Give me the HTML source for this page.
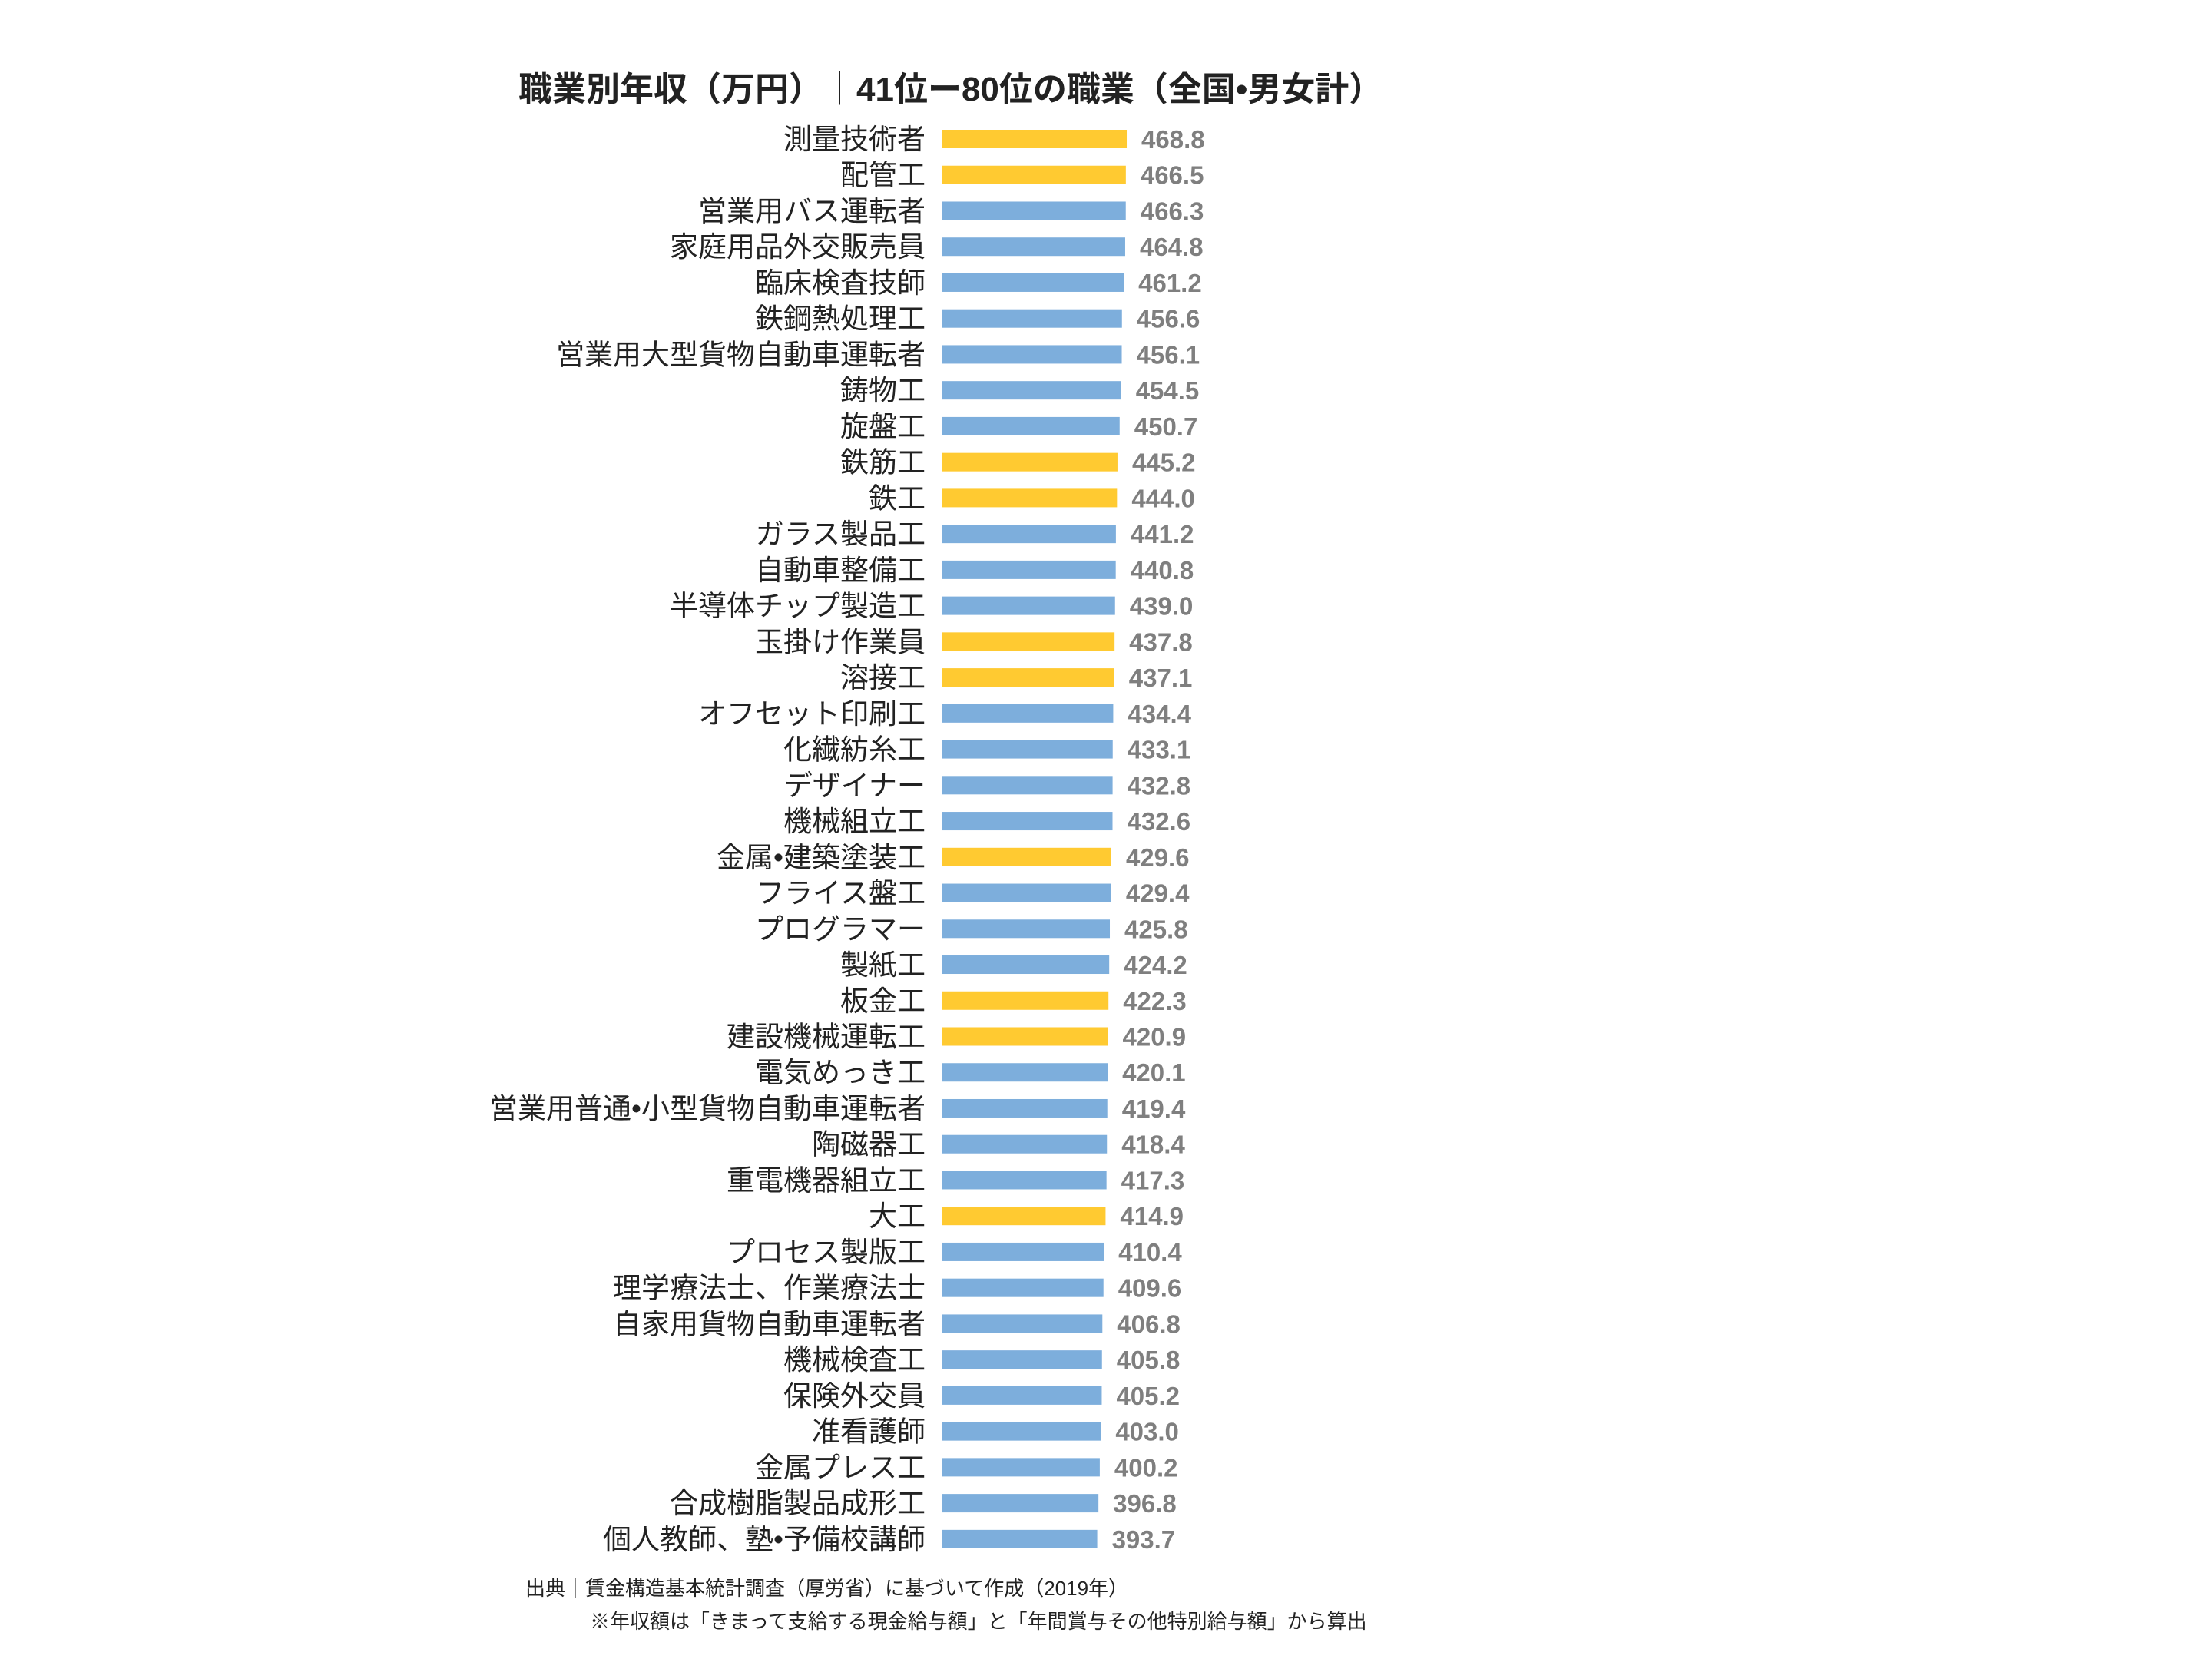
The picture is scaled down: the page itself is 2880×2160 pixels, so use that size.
<!DOCTYPE html>
<html><head><meta charset="utf-8">
<style>
html,body{margin:0;padding:0;background:#fff;}
svg{display:block;}
text{font-family:"Liberation Sans","Noto Sans CJK JP",sans-serif;}
</style></head>
<body>
<svg id="chart" width="2880" height="2160" viewBox="0 0 2880 2160" xmlns="http://www.w3.org/2000/svg">
<rect width="2880" height="2160" fill="#fff"/>
<text x="675" y="131" font-size="44" font-weight="bold" fill="#222" font-family="'Liberation Sans','Noto Sans CJK JP',sans-serif">職業別年収（万円）｜41位ー80位の職業（全国•男女計）</text>
<g id="bars"></g>
<text x="684" y="2077" font-size="26" fill="#222">出典｜賃金構造基本統計調査（厚労省）に基づいて作成（2019年）</text>
<text x="768" y="2120" font-size="26" fill="#222">※年収額は「きまって支給する現金給与額」と「年間賞与その他特別給与額」から算出</text>
</svg>
<script>
const categories = ["測量技術者","配管工","営業用バス運転者","家庭用品外交販売員","臨床検査技師","鉄鋼熱処理工","営業用大型貨物自動車運転者","鋳物工","旋盤工","鉄筋工","鉄工","ガラス製品工","自動車整備工","半導体チップ製造工","玉掛け作業員","溶接工","オフセット印刷工","化繊紡糸工","デザイナー","機械組立工","金属•建築塗装工","フライス盤工","プログラマー","製紙工","板金工","建設機械運転工","電気めっき工","営業用普通•小型貨物自動車運転者","陶磁器工","重電機器組立工","大工","プロセス製版工","理学療法士、作業療法士","自家用貨物自動車運転者","機械検査工","保険外交員","准看護師","金属プレス工","合成樹脂製品成形工","個人教師、塾•予備校講師"];
const values = [468.8,466.5,466.3,464.8,461.2,456.6,456.1,454.5,450.7,445.2,444.0,441.2,440.8,439.0,437.8,437.1,434.4,433.1,432.8,432.6,429.6,429.4,425.8,424.2,422.3,420.9,420.1,419.4,418.4,417.3,414.9,410.4,409.6,406.8,405.8,405.2,403.0,400.2,396.8,393.7];
const highlighted = [1,1,0,0,0,0,0,0,0,1,1,0,0,0,1,1,0,0,0,0,1,0,0,0,1,1,0,0,0,0,1,0,0,0,0,0,0,0,0,0];

const X0 = 1227, PX_PER = 0.512, Y0 = 181, PITCH = 46.74, BAR_H = 24;
const xScale = v => X0 + v * PX_PER;
const yScale = i => Y0 + i * PITCH;
const NS = "http://www.w3.org/2000/svg";
const g = document.getElementById("bars");
categories.forEach((c, i) => {
  const cy = yScale(i);
  const lab = document.createElementNS(NS, "text");
  
  
  lab.setAttribute("x", 1205); lab.setAttribute("y", cy + 13);
  lab.setAttribute("text-anchor", "end"); lab.setAttribute("font-size", "37");
  lab.setAttribute("fill", "#222");
  lab.textContent = c; g.appendChild(lab);
  const r = document.createElementNS(NS, "rect");
  
  
  r.setAttribute("x", xScale(0)); r.setAttribute("y", cy - BAR_H / 2);
  r.setAttribute("width", xScale(values[i]) - xScale(0)); r.setAttribute("height", BAR_H);
  r.setAttribute("fill", highlighted[i] ? "#FFCA31" : "#7DAEDC");
  g.appendChild(r);
  const v = document.createElementNS(NS, "text");
  
  
  v.setAttribute("x", xScale(values[i]) + 19); v.setAttribute("y", cy + 12);
  v.setAttribute("font-size", "33"); v.setAttribute("font-weight", "bold");
  v.setAttribute("fill", "#7F7F7F");
  v.textContent = values[i].toFixed(1); g.appendChild(v);
});
</script>
</body></html>
